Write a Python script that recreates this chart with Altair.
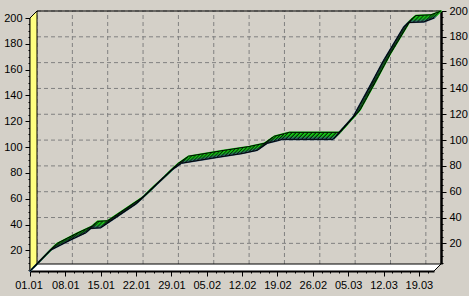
import altair as alt
import pandas as pd
from datetime import date

YEAR = 2021
# series (date dd.mm, cumulative value)
dates = ["01.01", "05.01", "09.01", "12.01", "13.01", "15.01", "22.01", "29.01",
         "31.01", "07.02", "12.02", "15.02", "17.02", "19.02", "20.02", "02.03",
         "06.03", "09.03", "12.03", "16.03", "17.03", "20.03", "22.03"]
values = [4, 20, 28, 33.5, 37, 37.5, 56, 82,
          87.5, 92, 95, 97.5, 103, 105, 106, 106,
          123.5, 145, 167, 193, 196.5, 197, 200]

x_tick_labels = ["01.01", "08.01", "15.01", "22.01", "29.01", "05.02",
                 "12.02", "19.02", "26.02", "05.03", "12.03", "19.03"]
y_tick_labels = [20, 40, 60, 80, 100, 120, 140, 160, 180, 200]


def day_index(s):
    d, m = s.split(".")
    return (date(YEAR, int(m), int(d)) - date(YEAR, 1, 1)).days


days = [day_index(s) for s in dates]
x_ticks = [day_index(s) for s in x_tick_labels]

X_MIN, X_MAX = days[0], days[-1]
Y_MIN, Y_MAX = 4, 200
W, H = 404, 253
DEPTH = 7
DX = DEPTH * (X_MAX - X_MIN) / W
DY = DEPTH * (Y_MAX - Y_MIN) / H

df = pd.DataFrame({"day": days, "value": values})

xs = alt.Scale(domain=[X_MIN, X_MAX], nice=False, zero=False)
ys = alt.Scale(domain=[Y_MIN, Y_MAX], nice=False, zero=False)
ys_back = alt.Scale(domain=[Y_MIN, Y_MAX], range=[H - DEPTH, -DEPTH], nice=False, zero=False)

FONT = "Liberation Sans"
x_minor = [X_MIN + i * 1.75 for i in range(int((X_MAX - X_MIN) / 1.75) + 1)]
y_minor = [v for v in range(5, 201, 5)]
label_arr = "[" + ",".join("'%s'" % s for s in x_tick_labels) + "]"

common = dict(grid=False, domainColor="black", tickColor="black", labelFont=FONT,
              labelFontSize=11, labelColor="black", labelPadding=3,
              labelOverlap=False, labelFlush=False, labelBound=False, title=None)
x_axis = alt.Axis(values=x_minor, labelExpr=f"datum.value % 7 === 0 ? {label_arr}[datum.value / 7] : ''",
                  domainWidth=2, labelAlign="center",
                  labelOffset={"condition": {"test": f"datum.value === {X_MIN}", "value": -1.5}, "value": 0},
                  tickSize={"condition": {"test": "datum.value % 7 === 0", "value": 5}, "value": 2},
                  orient="bottom", **common)
y_axis_left = alt.Axis(values=y_minor, labelExpr="datum.value % 20 === 0 ? datum.value : ''",
                       domainWidth=2,
                       tickSize={"condition": {"test": "datum.value % 20 === 0", "value": 5}, "value": 2},
                       orient="left", **common)
y_axis_right = alt.Axis(values=y_minor, labelExpr="datum.value % 20 === 0 ? datum.value : ''",
                        domainWidth=2.5,
                        tickSize={"condition": {"test": "datum.value % 20 === 0", "value": 5}, "value": 2},
                        orient="right", offset=DEPTH, **common)

GRID = "#808080"
DASH = [4, 3]

# front axes carrier (invisible points)
axes_layer = alt.Chart(df).mark_point(opacity=0).encode(
    x=alt.X("day:Q", scale=xs, axis=x_axis),
    y=alt.Y("value:Q", scale=ys, axis=y_axis_left),
)

# back plane: horizontal grid + right axis
grid_h = alt.Chart(pd.DataFrame({"v": y_tick_labels})).transform_calculate(
    x0=f"{X_MIN + DX}", x1=f"{X_MAX + DX}"
).mark_rule(color=GRID, strokeDash=DASH, strokeWidth=1).encode(
    y=alt.Y("v:Q", scale=ys_back, axis=y_axis_right),
    x=alt.X("x0:Q", scale=xs, axis=None),
    x2="x1:Q",
)

# vertical grid on back wall
grid_v = alt.Chart(pd.DataFrame({"t": x_ticks})).transform_calculate(
    xg=f"datum.t + {DX}", y0=f"{Y_MIN + DY}", y1=f"{Y_MAX + DY}"
).mark_rule(color=GRID, strokeDash=DASH, strokeWidth=1).encode(
    x=alt.X("xg:Q", scale=xs, axis=None),
    y=alt.Y("y0:Q", scale=ys, axis=None),
    y2="y1:Q",
)

top_edge = alt.Chart(pd.DataFrame({"a": [0]})).transform_calculate(
    x0=f"{X_MIN + DX}", x1=f"{X_MAX + DX}", yv=f"{Y_MAX + DY}"
).mark_rule(color="black", strokeWidth=1).encode(
    x=alt.X("x0:Q", scale=xs, axis=None), x2="x1:Q",
    y=alt.Y("yv:Q", scale=ys, axis=None),
)

# floor (white parallelogram, horizontal area)
floor = alt.Chart(pd.DataFrame({"z": [0, 1]})).transform_calculate(
    fy=f"{Y_MIN} + datum.z * {DY}",
    fx=f"{X_MIN} + datum.z * {DX}",
    fx2=f"{X_MAX} + datum.z * {DX}",
).mark_area(color="white", stroke="black", strokeWidth=1, opacity=1, orient="horizontal").encode(
    y=alt.Y("fy:Q", scale=ys, axis=None),
    x=alt.X("fx:Q", scale=xs, axis=None),
    x2="fx2:Q",
)

# left wall (yellow)
wall = alt.Chart(pd.DataFrame({"z": [0, 1]})).transform_calculate(
    wx=f"{X_MIN} + datum.z * {DX}",
    wy=f"{Y_MAX} + datum.z * {DY}",
    wy2=f"{Y_MIN} + datum.z * {DY}",
).mark_area(color="#ffff80", stroke="black", strokeWidth=1, opacity=1).encode(
    x=alt.X("wx:Q", scale=xs, axis=None),
    y=alt.Y("wy:Q", scale=ys, axis=None),
    y2="wy2:Q",
)


def lerp(c0, c1, t):
    a = [int(c0[i:i + 2], 16) for i in (1, 3, 5)]
    b = [int(c1[i:i + 2], 16) for i in (1, 3, 5)]
    return "#" + "".join("%02x" % round(a[i] + (b[i] - a[i]) * t) for i in range(3))


def shifted(t, **mark):
    return alt.Chart(df).transform_calculate(
        rx=f"datum.day + {t * DX}", ry=f"datum.value + {t * DY}"
    ).mark_line(**mark).encode(
        x=alt.X("rx:Q", scale=xs, axis=None),
        y=alt.Y("ry:Q", scale=ys, axis=None),
        order="day:Q",
    )


N = 8
ribbon = []
for k in range(N - 1, -1, -1):
    t = k / (N - 1)
    col = lerp("#34587a", "#14c814", min(1.0, t * 2.0))
    ribbon.append(shifted(t, color=col, strokeWidth=1.6, strokeCap="square"))
for k in range(1, N - 1):
    t = k / (N - 1)
    ribbon.append(shifted(t, color="#000000", strokeWidth=1.1, strokeDash=[1.2, 2.8], opacity=0.8))
for t in (0, 1):
    ribbon.append(shifted(t, color="black", strokeWidth=1))

chart = alt.layer(axes_layer, grid_h, grid_v, top_edge, floor, wall, *ribbon).resolve_scale(
    y="independent"
).resolve_axis(x="independent").properties(
    width=W, height=H,
    padding={"left": 30, "top": 18, "right": 469 - 30 - W, "bottom": 296 - 18 - H},
    autosize=alt.AutoSizeParams(type="none"),
    background="#d4d0c8",
).configure_view(stroke=None)

chart.save("out.html", embed_options={"renderer": "svg", "actions": False})
